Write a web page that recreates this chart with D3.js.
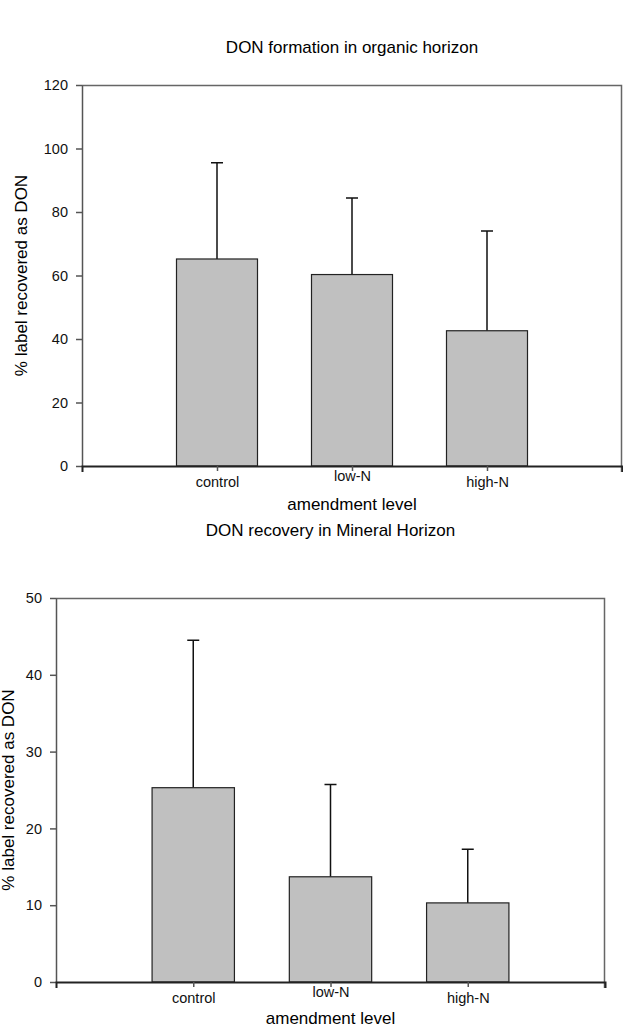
<!DOCTYPE html>
<html>
<head>
<meta charset="utf-8">
<script src="https://cdn.jsdelivr.net/npm/d3@7"></script>
<style>
  body { margin: 0; background: #fff; }
  svg { display: block; font-family: "Liberation Sans", Arial, sans-serif; }
</style>
</head>
<body>
<div class="chart"></div>
<script>
const categories = ['control', 'low-N', 'high-N'];

// organic horizon: mean and upper error (sd)
const organicMean = [65.2, 60.3, 42.6];
const organicErr = [30.3, 24.1, 31.4];
const organicTicks = [0, 20, 40, 60, 80, 100, 120];

// mineral horizon
const mineralMean = [25.3, 13.7, 10.3];
const mineralErr = [19.2, 12.0, 7.0];
const mineralTicks = [0, 10, 20, 30, 40, 50];

const svg = d3.select('.chart')
    .append('svg')
        .attr('width', 623)
        .attr('height', 1029);

function drawPanel(opt) {
    const g = svg.append('g')
        .attr('transform', `translate(${opt.left}, ${opt.top})`);
    const w = opt.width, h = opt.height;

    let xScale = d3.scalePoint()
        .domain(categories)
        .range([0, w])
        .padding(1);
    let yScale = d3.scaleLinear()
        .domain([0, d3.max(opt.ticks)])
        .range([h, 0]);
    const bw = xScale.step() * 0.6;

    // frame top + right
    g.append('path')
        .attr('d', `M0,0.5H${w - 0.5}V${h + 6}`)
        .attr('fill', 'none')
        .attr('stroke', '#666')
        .attr('stroke-width', 1.5);

    const rows = categories.map((c, i) => ({c, v: opt.mean[i], e: opt.err[i]}));

    g.selectAll('.err')
        .data(rows)
        .enter().append('path')
        .attr('class', 'err')
        .attr('d', d => {
            const x = xScale(d.c), y0 = yScale(d.v), y1 = yScale(d.v + d.e);
            return `M${x},${y0}V${y1}M${x - 6},${y1}H${x + 6}`;
        })
        .attr('fill', 'none')
        .attr('stroke', '#111')
        .attr('stroke-width', 1.5);

    g.selectAll('.bar')
        .data(rows)
        .enter().append('rect')
        .attr('class', 'bar')
        .attr('x', d => xScale(d.c) - bw / 2)
        .attr('y', d => yScale(d.v))
        .attr('width', bw)
        .attr('height', d => h - yScale(d.v))
        .attr('fill', '#c0c0c0')
        .attr('stroke', '#222')
        .attr('stroke-width', 1.2);

    let yAxis = d3.axisLeft(yScale)
        .tickValues(opt.ticks)
        .tickSizeInner(6)
        .tickSizeOuter(0)
        .tickPadding(8);
    let ya = g.append('g').call(yAxis);
    ya.selectAll('path, line').attr('stroke', '#555').attr('stroke-width', 1.5);
    ya.selectAll('text').style('font-size', '14.5px').attr('fill', '#111');

    let xAxis = d3.axisBottom(xScale)
        .tickSizeInner(5)
        .tickSizeOuter(6)
        .tickPadding(6);
    let xa = g.append('g')
        .attr('transform', `translate(0, ${h})`)
        .call(xAxis);
    xa.select('.domain').attr('stroke', '#222').attr('stroke-width', 2);
    xa.selectAll('line').attr('stroke', '#555').attr('stroke-width', 1.5);
    xa.selectAll('text')
        .style('font-size', '14.5px')
        .attr('fill', '#111')
        .attr('dy', d => d === 'low-N' ? '0.31em' : '0.71em');

    // labels
    svg.append('text')
        .attr('x', opt.left + w / 2)
        .attr('y', opt.titleY)
        .attr('text-anchor', 'middle')
        .style('font-size', '17px')
        .text(opt.title);
    svg.append('text')
        .attr('x', opt.left + w / 2)
        .attr('y', opt.xLabelY)
        .attr('text-anchor', 'middle')
        .style('font-size', '17px')
        .text('amendment level');
    svg.append('text')
        .attr('transform', `translate(${opt.yLabelX}, ${opt.top + h / 2}) rotate(-90)`)
        .attr('text-anchor', 'middle')
        .style('font-size', '17px')
        .text('% label recovered as DON');
}

drawPanel({
    left: 82, top: 85, width: 540, height: 381,
    mean: organicMean, err: organicErr, ticks: organicTicks,
    title: 'DON formation in organic horizon',
    titleY: 53, xLabelY: 510, yLabelX: 27
});

drawPanel({
    left: 56, top: 598, width: 549, height: 384,
    mean: mineralMean, err: mineralErr, ticks: mineralTicks,
    title: 'DON recovery in Mineral Horizon',
    titleY: 536, xLabelY: 1024, yLabelX: 14
});
</script>
</body>
</html>
